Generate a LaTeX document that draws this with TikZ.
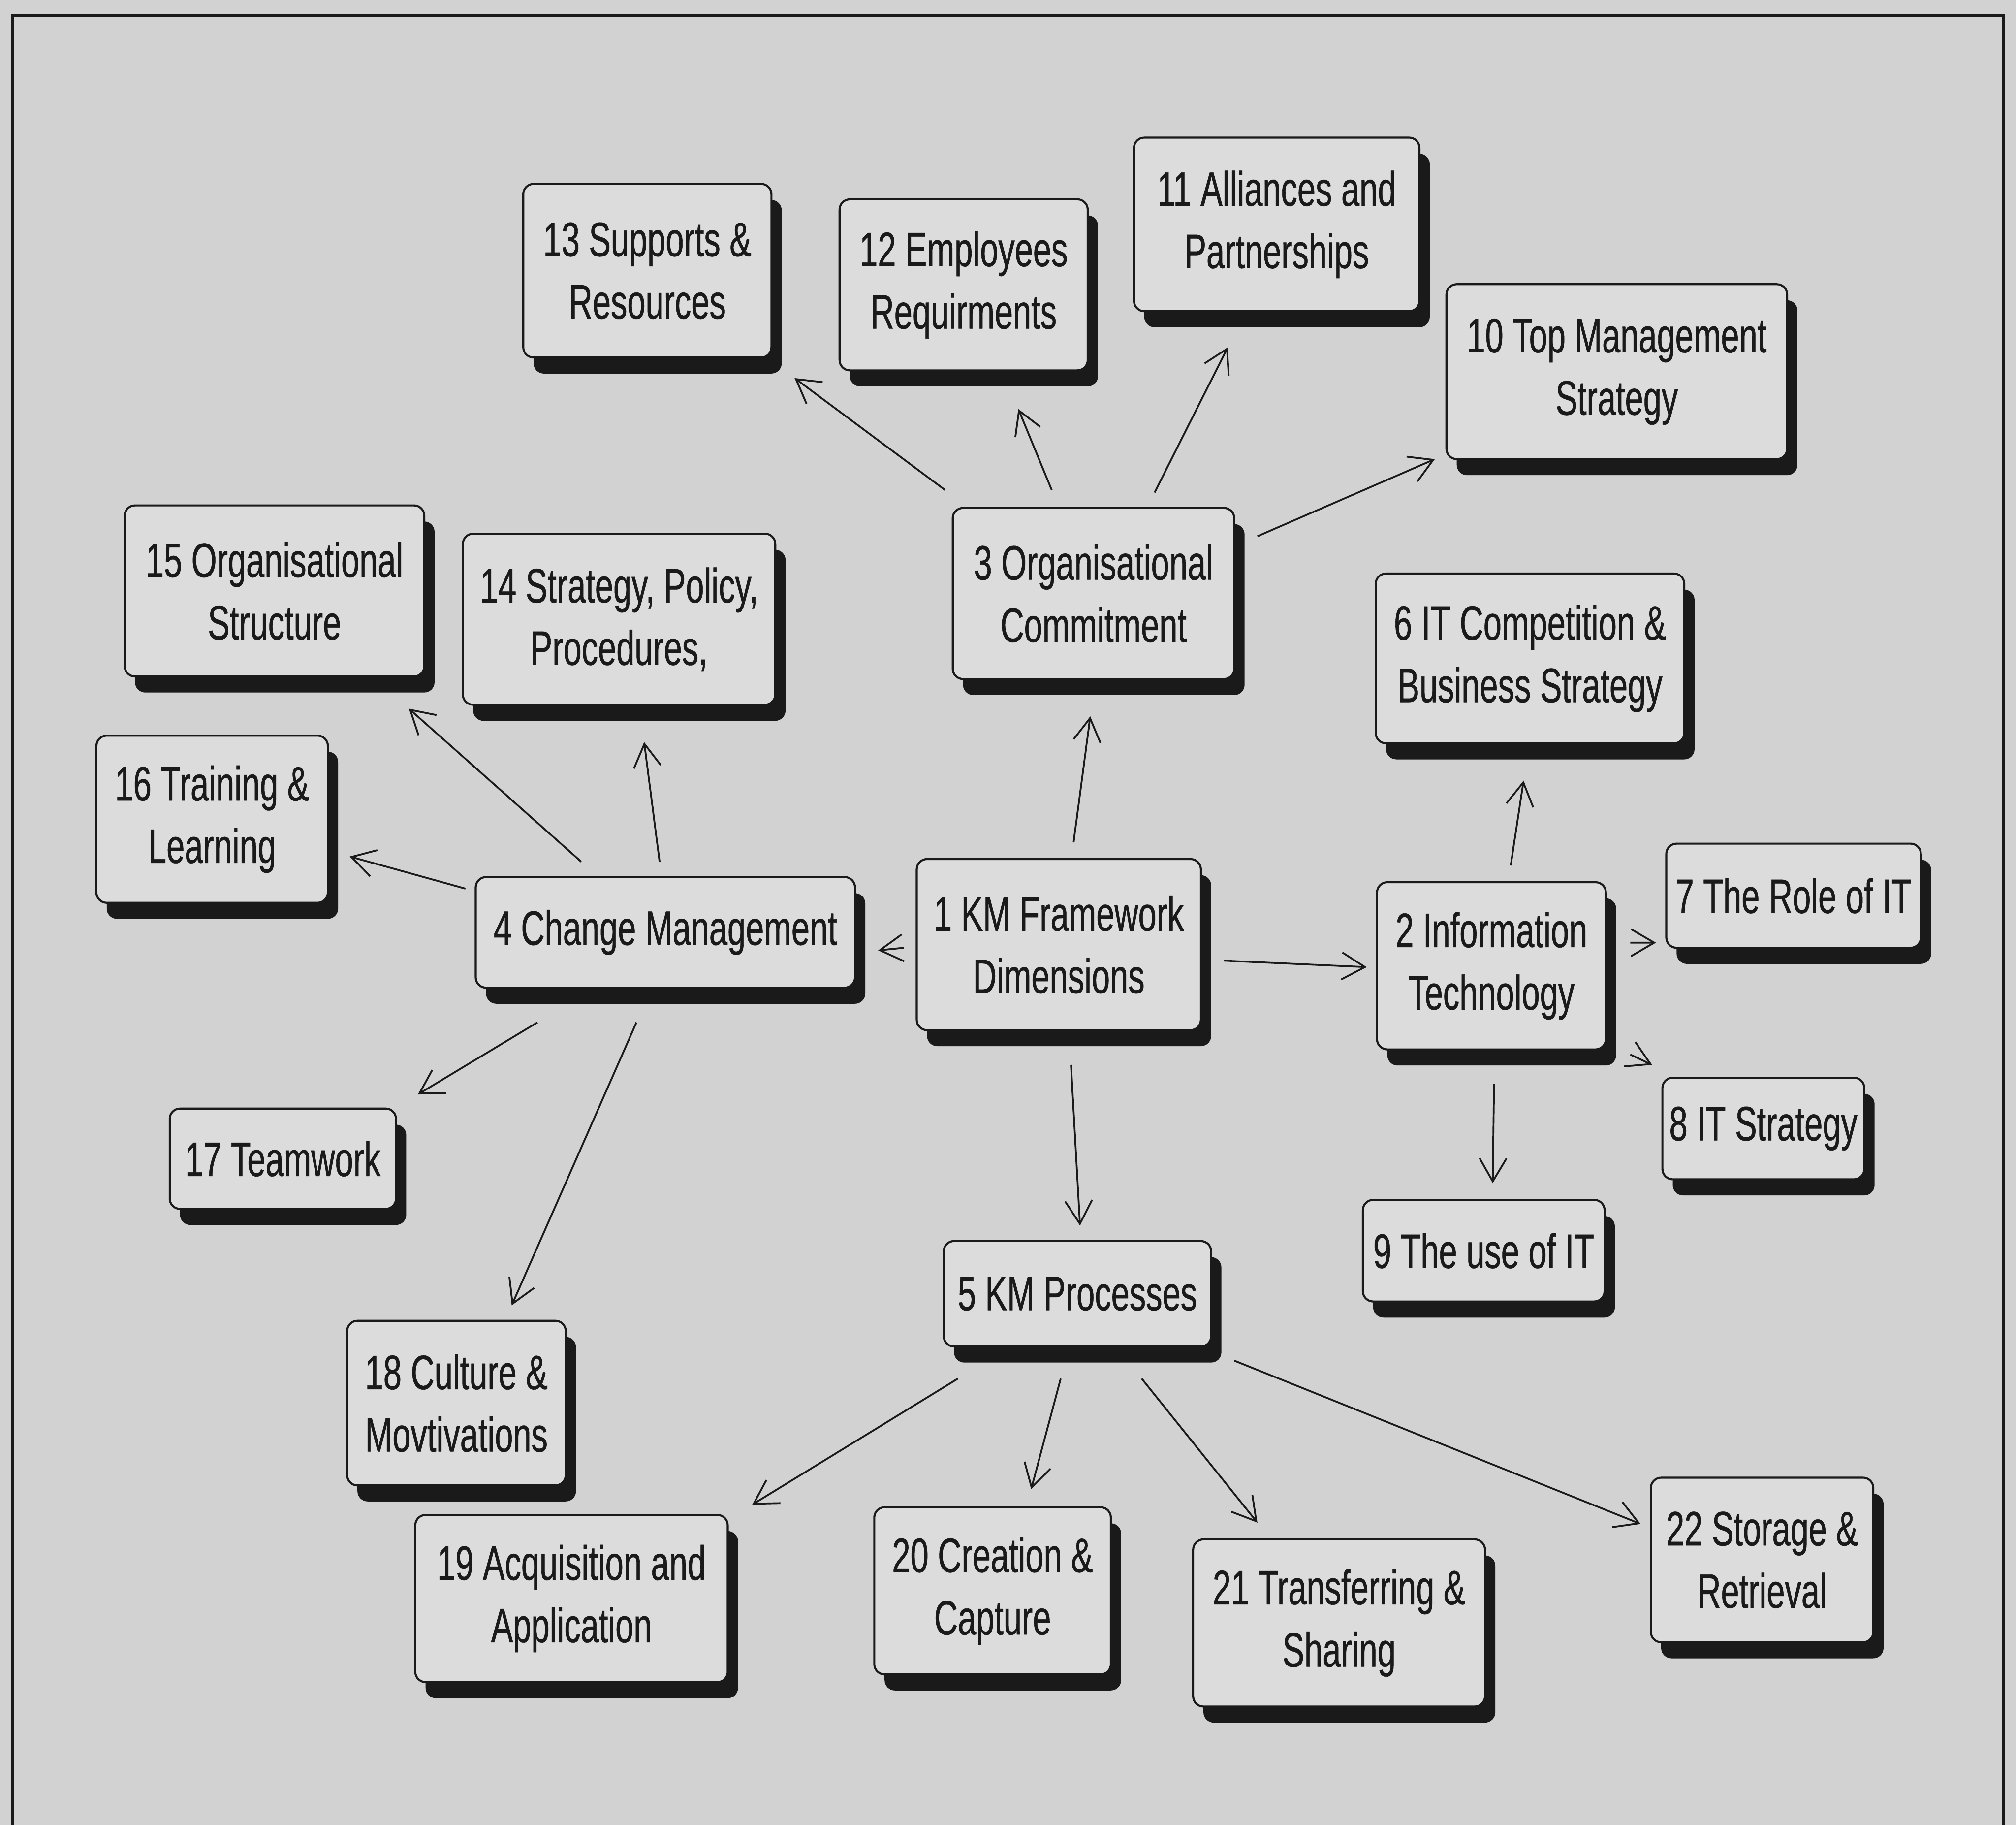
\documentclass[tikz,border=0pt]{standalone}
\usepackage{fontspec}
\setmainfont{Liberation Sans}[FakeStretch=0.68,FakeBold=0.6]
\usetikzlibrary{arrows.meta,shadows}

\definecolor{paper}{HTML}{D2D2D2}
\definecolor{cardfill}{HTML}{DCDCDC}
\definecolor{ink}{HTML}{1A1A1A}

\begin{document}
\begin{tikzpicture}[x=0.1mm,y=-0.1mm,
  card/.style={draw=ink, line width=0.45pt, fill=cardfill, rounded corners=0.8mm,
    inner sep=0pt, align=center, text=ink,
    font=\fontsize{10.7}{13.8}\selectfont,
    drop shadow={shadow xshift=0.8mm, shadow yshift=-1.25mm, fill=ink, opacity=1}},
  link/.style={draw=ink, line width=0.4pt,
    -{Straight Barb[length=1.8mm,width=2.1mm,line width=0.4pt]}}
]
% page and frame
\fill[paper] (0,0) rectangle (1568,1419);
\useasboundingbox (0,0) rectangle (1568,1419);
\draw[ink, line width=0.7pt] (10,1419) -- (10,12) -- (1558,12) -- (1558,1419);

% top row
\node[card, minimum width=19.3mm, minimum height=13.5mm] (n13) at (503.5,210.5) {13 Supports \&\\Resources};
\node[card, minimum width=19.3mm, minimum height=13.3mm] (n12) at (749.5,221.5) {12 Employees\\Requirments};
\node[card, minimum width=22.2mm, minimum height=13.5mm] (n11) at (993,174.5) {11 Alliances and\\Partnerships};
\node[card, minimum width=26.5mm, minimum height=13.6mm] (n10) at (1257.5,289) {10 Top Management\\Strategy};

% second row
\node[card, minimum width=23.3mm, minimum height=13.3mm] (n15) at (213.5,459.5) {15 Organisational\\Structure};
\node[card, minimum width=24.3mm, minimum height=13.3mm] (n14) at (481.5,481.5) {14 Strategy, Policy,\\Procedures,};
\node[card, minimum width=21.9mm, minimum height=13.3mm] (n3) at (850.5,461.5) {3 Organisational\\Commitment};
\node[card, minimum width=24.0mm, minimum height=13.2mm] (n6) at (1190,512) {6 IT Competition \&\\Business Strategy};

% middle row
\node[card, minimum width=18.0mm, minimum height=13.0mm] (n16) at (165,637) {16 Training \&\\Learning};
\node[card, minimum width=29.5mm, minimum height=8.6mm] (n4) at (517.5,725) {4 Change Management};
\node[card, minimum width=22.1mm, minimum height=13.3mm] (n1) at (823.5,734.5) {1 KM Framework\\Dimensions};
\node[card, minimum width=17.8mm, minimum height=13.0mm] (n2) at (1160,751) {2 Information\\Technology};
\node[card, minimum width=19.8mm, minimum height=8.1mm] (n7) at (1395,696.5) {7 The Role of IT};
\node[card, minimum width=15.7mm, minimum height=7.9mm] (n8) at (1371.5,877.5) {8 IT Strategy};

% lower rows
\node[card, minimum width=17.6mm, minimum height=7.8mm] (n17) at (220,901) {17 Teamwork};
\node[card, minimum width=18.8mm, minimum height=7.9mm] (n9) at (1154,972.5) {9 The use of IT};
\node[card, minimum width=20.8mm, minimum height=8.2mm] (n5) at (838,1006) {5 KM Processes};
\node[card, minimum width=17.0mm, minimum height=12.8mm] (n18) at (355,1091) {18 Culture \&\\Movtivations};
\node[card, minimum width=24.3mm, minimum height=13.0mm] (n19) at (444.5,1243) {19 Acquisition and\\Application};
\node[card, minimum width=18.4mm, minimum height=13.0mm] (n20) at (772,1237) {20 Creation \&\\Capture};
\node[card, minimum width=22.7mm, minimum height=13.0mm] (n21) at (1041.5,1262) {21 Transferring \&\\Sharing};
\node[card, minimum width=17.3mm, minimum height=12.8mm] (n22) at (1370.5,1213) {22 Storage \&\\Retrieval};

% links from 3 Organisational Commitment
\draw[link] ([shift={(-115.5,-80.5)}]n3.center) -- ([shift={(114.5,83.5)}]n13.center);
\draw[link] ([shift={(-32.5,-80.5)}]n3.center) -- ([shift={(42.5,96.5)}]n12.center);
\draw[link] ([shift={(47.5,-78.5)}]n3.center) -- ([shift={(-38,95.5)}]n11.center);
\draw[link] ([shift={(127.5,-44.5)}]n3.center) -- ([shift={(-141.5,68)}]n10.center);

% links from 1 KM Framework Dimensions
\draw[link] ([shift={(11.5,-79.5)}]n1.center) -- ([shift={(-2.5,95.5)}]n3.center);
\draw[link] ([shift={(-120.5,2.5)}]n1.center) -- ([shift={(165.5,14)}]n4.center);
\draw[link] ([shift={(128.5,12.5)}]n1.center) -- ([shift={(-97,1)}]n2.center);
\draw[link] ([shift={(9.5,93.5)}]n1.center) -- ([shift={(2,-53)}]n5.center);

% links from 4 Change Management
\draw[link] ([shift={(-4.5,-55)}]n4.center) -- ([shift={(19.5,95.5)}]n14.center);
\draw[link] ([shift={(-65.5,-55)}]n4.center) -- ([shift={(104.5,91.5)}]n15.center);
\draw[link] ([shift={(-155.5,-34)}]n4.center) -- ([shift={(107,29)}]n16.center);
\draw[link] ([shift={(-99.5,70)}]n4.center) -- ([shift={(105,-50)}]n17.center);
\draw[link] ([shift={(-22.5,70)}]n4.center) -- ([shift={(43,-76)}]n18.center);

% links from 2 Information Technology
\draw[link] ([shift={(15,-78)}]n2.center) -- ([shift={(-5,95)}]n6.center);
\draw[link] ([shift={(108,-18)}]n2.center) -- ([shift={(-107,36.5)}]n7.center);
\draw[link] ([shift={(108,69)}]n2.center) -- ([shift={(-86.5,-49.5)}]n8.center);
\draw[link] ([shift={(2,92)}]n2.center) -- ([shift={(7,-52.5)}]n9.center);

% links from 5 KM Processes
\draw[link] ([shift={(-93,66)}]n5.center) -- ([shift={(140.5,-73)}]n19.center);
\draw[link] ([shift={(-13,66)}]n5.center) -- ([shift={(30,-79)}]n20.center);
\draw[link] ([shift={(50,66)}]n5.center) -- ([shift={(-63.5,-78)}]n21.center);
\draw[link] ([shift={(122,52)}]n5.center) -- ([shift={(-94.5,-28)}]n22.center);
\end{tikzpicture}
\end{document}
